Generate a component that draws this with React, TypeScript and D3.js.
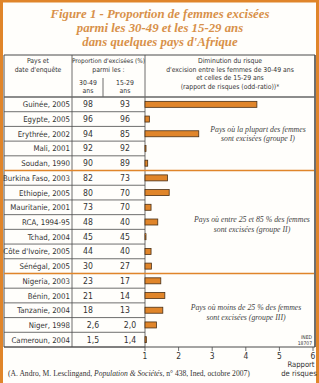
import React from 'react';
import * as d3 from 'd3';

// data
const countries = [
  'Guinée, 2005', 'Egypte, 2005', 'Erythrée, 2002', 'Mali, 2001', 'Soudan, 1990',
  'Burkina Faso, 2003', 'Ethiopie, 2005', 'Mauritanie, 2001', 'RCA, 1994-95', 'Tchad, 2004',
  "Côte d'Ivoire, 2005", 'Sénégal, 2005',
  'Nigeria, 2003', 'Bénin, 2001', 'Tanzanie, 2004', 'Niger, 1998', 'Cameroun, 2004',
];
const pct3049 = ['98', '96', '94', '92', '90', '82', '80', '73', '48', '45', '44', '30', '23', '21', '18', '2,6', '1,5'];
const pct1529 = ['93', '96', '85', '92', '89', '73', '70', '70', '40', '45', '40', '27', '17', '14', '13', '2,0', '1,4'];
const oddsRatio = [4.33, 1.13, 2.6, 1.03, 1.08, 1.67, 1.72, 1.18, 1.38, 1.02, 1.18, 1.19, 1.47, 1.59, 1.53, 1.34, 1.04];
// index of first country of groups II and III
const groupBreaks = [5, 12];
const groupNotes = [
  { first: 0, last: 4, lines: ['Pays où la plupart des femmes', 'sont excisées (groupe I)'] },
  { first: 5, last: 11, lines: ['Pays où entre 25 et 85 % des femmes', 'sont excisées (groupe II)'] },
  { first: 12, last: 16, lines: ['Pays où moins de 25 % des femmes', 'sont excisées (groupe III)'] },
];
const xTicks = [1, 2, 3, 4, 5, 6];

const W = 319;
const H = 383;
const orange = '#e0852a';
const titleCol = '#d8914a';
const lineCol = '#4a4a4a';
const sans = "'Liberation Sans Narrow', 'DejaVu Sans Condensed', 'Roboto Condensed', sans-serif";
const serif = "'Liberation Serif', 'DejaVu Serif', serif";

export default function App() {
  const left = 4, right = 315, top = 55, headBottom = 97, bottom = 347;
  const colCountry = 72, colSplit = 103, colEnd = 145;

  const y = d3.scaleBand<number>()
    .domain(d3.range(countries.length))
    .range([headBottom, bottom]);
  const x = d3.scaleLinear().domain([1, 6]).range([colEnd, 313]);
  const barH = 6;

  const numX = (s: string, c: number) => (s.includes(',') ? c + 5 : c);

  return (
    <svg width={W} height={H} style={{ position: 'absolute', left: 0, top: 0, background: '#fffefb' }}>
      {/* orange page frame */}
      <rect x={1.5} y={1} width={W - 3} height={H + 10} fill="none" stroke={orange} strokeWidth={3} />

      {/* title */}
      <g fontFamily={serif} fontStyle="italic" fontWeight="bold" fontSize={12.8} fill={titleCol} textAnchor="middle">
        <text x={160} y={18}>Figure 1 - Proportion de femmes excisées</text>
        <text x={160} y={32}>parmi les 30-49 et les 15-29 ans</text>
        <text x={160} y={46}>dans quelques pays d'Afrique</text>
      </g>

      {/* header */}
      <g fontFamily={sans} fontSize={6.8} fill="#333" textAnchor="middle">
        <text x={38} y={63}>Pays et</text>
        <text x={38} y={72}>date d'enquête</text>
        <text x={108.5} y={63} fontSize={6.4}>Proportion d'excisées (%)</text>
        <text x={108.5} y={72}>parmi les :</text>
        <text x={88} y={85}>30-49</text>
        <text x={88} y={93}>ans</text>
        <text x={125} y={85}>15-29</text>
        <text x={125} y={93}>ans</text>
        <text x={230} y={63}>Diminution du risque</text>
        <text x={230} y={71.5}>d'excision entre les femmes de 30-49 ans</text>
        <text x={230} y={80}>et celles de 15-29 ans</text>
        <text x={230} y={88.5}>(rapport de risques (odd-ratio))*</text>
      </g>

      {/* grid */}
      <g stroke={lineCol} fill="none">
        {countries.map((c, i) => (
          <line key={c} x1={left} x2={colEnd} y1={y(i)! + y.bandwidth()} y2={y(i)! + y.bandwidth()} strokeWidth={0.8} />
        ))}
        <line x1={left} x2={right} y1={top} y2={top} strokeWidth={1} />
        <line x1={left} x2={left} y1={top} y2={bottom} strokeWidth={1} />
        <line x1={colCountry} x2={colCountry} y1={top} y2={bottom} strokeWidth={0.8} />
        <line x1={colSplit} x2={colSplit} y1={78} y2={headBottom} strokeWidth={0.8} />
        <line x1={colEnd} x2={colEnd} y1={top} y2={bottom} strokeWidth={0.8} />
        <line x1={right} x2={right} y1={top} y2={bottom} strokeWidth={1.6} />
        <line x1={left} x2={right} y1={headBottom} y2={headBottom} strokeWidth={1.6} stroke="#666" />
        <line x1={left} x2={right} y1={bottom} y2={bottom} strokeWidth={1} />
      </g>

      {/* group separators */}
      {groupBreaks.map(b => (
        <line key={b} x1={left} x2={right - 1} y1={y(b)!} y2={y(b)!} stroke={orange} strokeWidth={1.4} />
      ))}

      {/* table text */}
      <g fontFamily={sans} fontSize={7.8} fill="#333">
        {countries.map((c, i) => {
          const cy = y(i)! + y.bandwidth() / 2 + 3;
          return (
            <g key={c}>
              <text x={colCountry - 2} y={cy} textAnchor="end">{c}</text>
              <text x={numX(pct3049[i], 88)} y={cy} textAnchor="middle" fontSize={8.6}>{pct3049[i]}</text>
              <text x={numX(pct1529[i], 125)} y={cy} textAnchor="middle" fontSize={8.6}>{pct1529[i]}</text>
            </g>
          );
        })}
      </g>

      {/* bars */}
      {oddsRatio.map((v, i) => (
        <rect
          key={i}
          x={x(1)}
          y={y(i)! + (y.bandwidth() - barH) / 2}
          width={Math.max(x(v) - x(1), 1)}
          height={barH}
          fill={orange}
          stroke="#4a3016"
          strokeWidth={0.8}
        />
      ))}

      {/* group notes */}
      <g fontFamily={serif} fontStyle="italic" fontSize={7.8} fill="#444" textAnchor="middle">
        {groupNotes.map((g, k) => {
          const mid = (y(g.first)! + y(g.last)! + y.bandwidth()) / 2;
          const cx = [258, 252, 246][k];
          return g.lines.map((l, j) => (
            <text key={k + '-' + j} x={cx} y={mid + (k === 0 ? -2 : 0) + j * 9.5}>{l}</text>
          ));
        })}
      </g>

      {/* INED mark */}
      <g fontFamily={sans} fontSize={5} fill="#333" textAnchor="end">
        <text x={312} y={339}>INED</text>
        <text x={312} y={345}>18707</text>
      </g>

      {/* x axis */}
      <g stroke={lineCol} strokeWidth={0.8}>
        {xTicks.map(t => (
          <line key={t} x1={x(t)} x2={x(t)} y1={bottom} y2={bottom + 4} />
        ))}
      </g>
      <g fontFamily={sans} fontSize={8.4} fill="#333" textAnchor="middle">
        {xTicks.map(t => (
          <text key={t} x={x(t)} y={bottom + 11.5}>{t}</text>
        ))}
        <text x={301} y={367} fontSize={7.6}>Rapport</text>
        <text x={299} y={376} fontSize={7.6}>de risques</text>
      </g>

      {/* source */}
      <text x={8} y={376} fontFamily={serif} fontSize={7.6} fill="#333">
        (A. Andro, M. Lesclingand, <tspan fontStyle="italic">Population &amp; Sociétés</tspan>, n° 438, Ined, octobre 2007)
      </text>
    </svg>
  );
}
